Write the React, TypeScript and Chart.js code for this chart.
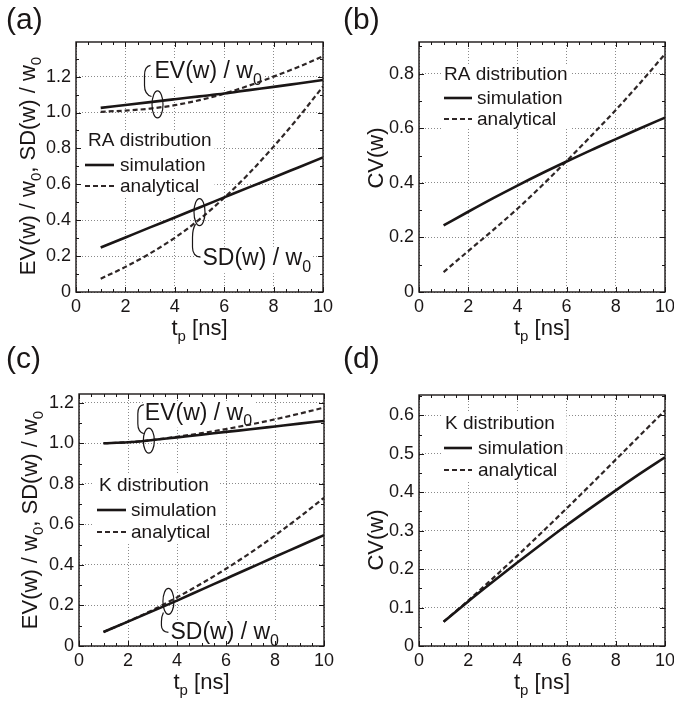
import React, { useEffect, useRef } from 'react';
import { Chart, registerables } from 'chart.js';

Chart.register(...registerables);

// ---------------- data ----------------
const tp = [1, 2, 3, 4, 5, 6, 7, 8, 9, 10];

// (a) RA distribution: EV(w)/w0 and SD(w)/w0
const raEvSim = [1.026, 1.042, 1.058, 1.074, 1.09, 1.106, 1.125, 1.143, 1.162, 1.181];
const raEvAna = [1.004, 1.011, 1.022, 1.041, 1.069, 1.105, 1.15, 1.2, 1.254, 1.313];
const raSdSim = [0.248, 0.304, 0.36, 0.415, 0.471, 0.527, 0.583, 0.638, 0.694, 0.75];
const raSdAna = [0.074, 0.14, 0.215, 0.302, 0.405, 0.525, 0.66, 0.81, 0.972, 1.145];

// (b) RA distribution: CV(w)
const raCvSim = [0.244, 0.294, 0.343, 0.39, 0.435, 0.478, 0.52, 0.56, 0.6, 0.639];
const raCvAna = [0.073, 0.15, 0.226, 0.305, 0.39, 0.48, 0.572, 0.667, 0.767, 0.872];

// (c) K distribution: EV(w)/w0 and SD(w)/w0
const kEvSim = [1.0, 1.005, 1.016, 1.029, 1.042, 1.056, 1.069, 1.083, 1.097, 1.11];
const kEvAna = [1.0, 1.005, 1.016, 1.032, 1.05, 1.07, 1.093, 1.118, 1.146, 1.176];
const kSdSim = [0.069, 0.12, 0.172, 0.224, 0.278, 0.332, 0.386, 0.44, 0.493, 0.547];
const kSdAna = [0.069, 0.121, 0.177, 0.24, 0.308, 0.381, 0.46, 0.545, 0.636, 0.731];

// (d) K distribution: CV(w)
const kCvSim = [0.063, 0.116, 0.167, 0.217, 0.266, 0.314, 0.36, 0.405, 0.449, 0.491];
const kCvAna = [0.063, 0.118, 0.176, 0.235, 0.296, 0.358, 0.421, 0.485, 0.549, 0.613];

// ticks
const xTicks = [0, 2, 4, 6, 8, 10];
const xTickLabels = ['0', '2', '4', '6', '8', '10'];
const evSdTicks = [0, 0.2, 0.4, 0.6, 0.8, 1.0, 1.2];
const evSdTickLabels = ['0', '0.2', '0.4', '0.6', '0.8', '1.0', '1.2'];
const raCvTicks = [0, 0.2, 0.4, 0.6, 0.8];
const raCvTickLabels = ['0', '0.2', '0.4', '0.6', '0.8'];
const kCvTicks = [0, 0.1, 0.2, 0.3, 0.4, 0.5, 0.6];
const kCvTickLabels = ['0', '0.1', '0.2', '0.3', '0.4', '0.5', '0.6'];

// ---------------- styles ----------------
const FONT = '"Liberation Sans", Arial, Helvetica, sans-serif';
const INK = '#1a1616';
const DASH_INK = '#2e2626';
const GRID = '#8a8a8a';
const W = 674;
const H = 702;
const YW = 40;
const XH = 30;

type Part = [string, boolean];
type Note = {
  x: number; y: number; rx: number; ry: number;
  curl: number[][]; text: Part[]; tdx: number; tdy: number;
};
type Panel = {
  id: string; label: string; labelPos: [number, number];
  plot: [number, number, number, number];
  yMax: number; yTicks: number[]; yLabels: string[]; yMinor: number;
  series: { data: number[]; dashed: boolean }[];
  yTitle: Part[]; yTitleX: number; yTitleY: number;
  legend: { title: string; tx: number; ty: number; lx0: number; lx1: number; textX: number; r1: number; r2: number };
  notes: Note[];
};

const evSdTitle: Part[] = [['EV(w) / w', false], ['0', true], [', SD(w) / w', false], ['0', true]];
const cvTitle: Part[] = [['CV(w)', false]];
const xTitle: Part[] = [['t', false], ['p', true], [' [ns]', false]];
const evNote: Part[] = [['EV(w) / w', false], ['0', true]];
const sdNote: Part[] = [['SD(w) / w', false], ['0', true]];

const upCurlA = [[-6, -8], [-13, -10, -13, -19], [-13, -29], [-13, -38, -7, -39]];
const downCurlA = [[-4, 12], [-7, 17, -7, 25], [-7, 35], [-7, 44, 1, 45]];
const upCurlC = [[-5, -7], [-11, -9, -11, -17], [-11, -27], [-11, -35, -5, -36]];
const downCurlC = [[-5, 11], [-7, 15, -7, 20], [-7, 24], [-7, 30, 0, 31]];

const panels: Panel[] = [
  {
    id: 'a', label: '(a)', labelPos: [6, 29], plot: [76, 42, 323, 292],
    yMax: 1.393, yTicks: evSdTicks, yLabels: evSdTickLabels, yMinor: 0.1,
    series: [
      { data: raEvSim, dashed: false }, { data: raEvAna, dashed: true },
      { data: raSdSim, dashed: false }, { data: raSdAna, dashed: true },
    ],
    yTitle: evSdTitle, yTitleX: 35, yTitleY: 166,
    legend: { title: 'RA distribution', tx: 12, ty: 104, lx0: 9, lx1: 38, textX: 44, r1: 123, r2: 144 },
    notes: [
      { x: 3.3, y: 1.045, rx: 5.5, ry: 13.5, curl: upCurlA, text: evNote, tdx: -3, tdy: -26 },
      { x: 5.0, y: 0.445, rx: 5.5, ry: 13.5, curl: downCurlA, text: sdNote, tdx: 3, tdy: 53 },
    ],
  },
  {
    id: 'b', label: '(b)', labelPos: [343, 29], plot: [419, 42, 665, 292],
    yMax: 0.916, yTicks: raCvTicks, yLabels: raCvTickLabels, yMinor: 0.1,
    series: [{ data: raCvSim, dashed: false }, { data: raCvAna, dashed: true }],
    yTitle: cvTitle, yTitleX: 383, yTitleY: 158,
    legend: { title: 'RA distribution', tx: 25, ty: 38, lx0: 25, lx1: 53, textX: 58, r1: 56, r2: 77 },
    notes: [],
  },
  {
    id: 'c', label: '(c)', labelPos: [6, 368], plot: [79, 394, 324, 646],
    yMax: 1.243, yTicks: evSdTicks, yLabels: evSdTickLabels, yMinor: 0.1,
    series: [
      { data: kEvSim, dashed: false }, { data: kEvAna, dashed: true },
      { data: kSdSim, dashed: false }, { data: kSdAna, dashed: true },
    ],
    yTitle: evSdTitle, yTitleX: 37, yTitleY: 520,
    legend: { title: 'K distribution', tx: 20, ty: 97, lx0: 18, lx1: 47, textX: 52, r1: 116, r2: 138 },
    notes: [
      { x: 2.85, y: 1.013, rx: 5.5, ry: 12.5, curl: upCurlC, text: evNote, tdx: -4, tdy: -21 },
      { x: 3.65, y: 0.22, rx: 5.5, ry: 13, curl: downCurlC, text: sdNote, tdx: 2, tdy: 38 },
    ],
  },
  {
    id: 'd', label: '(d)', labelPos: [343, 368], plot: [419, 395, 665, 646],
    yMax: 0.653, yTicks: kCvTicks, yLabels: kCvTickLabels, yMinor: 0.05,
    series: [{ data: kCvSim, dashed: false }, { data: kCvAna, dashed: true }],
    yTitle: cvTitle, yTitleX: 383, yTitleY: 540,
    legend: { title: 'K distribution', tx: 26, ty: 34, lx0: 25, lx1: 53, textX: 59, r1: 53, r2: 75 },
    notes: [],
  },
];

// ---------------- helpers ----------------
function richWidth(ctx: CanvasRenderingContext2D, parts: Part[], size: number) {
  let total = 0;
  for (const [t, sub] of parts) {
    ctx.font = `${sub ? Math.round(size * 0.7) : size}px ${FONT}`;
    total += ctx.measureText(t).width;
  }
  return total;
}

function drawRich(ctx: CanvasRenderingContext2D, parts: Part[], x: number, y: number, size: number, align: 'left' | 'center') {
  const total = richWidth(ctx, parts, size);
  let cx = align === 'center' ? x - total / 2 : x;
  ctx.textAlign = 'left';
  ctx.textBaseline = 'alphabetic';
  for (const [t, sub] of parts) {
    ctx.font = `${sub ? Math.round(size * 0.7) : size}px ${FONT}`;
    ctx.fillText(t, cx, sub ? y + size * 0.28 : y);
    cx += ctx.measureText(t).width;
  }
  return total;
}

function makePlugin(p: Panel) {
  const NOTE_SIZE = 23;
  const LEG_SIZE = 19;
  return {
    id: 'panelDecor' + p.id,
    beforeDatasetsDraw(chart: any) {
      const ctx: CanvasRenderingContext2D = chart.ctx;
      const { left, top } = chart.chartArea;
      const xs = chart.scales.x;
      const ys = chart.scales.y;
      ctx.save();
      // legend box
      const lg = p.legend;
      ctx.font = `${LEG_SIZE}px ${FONT}`;
      const tw = ctx.measureText(lg.title).width;
      const sw = Math.max(ctx.measureText('simulation').width, ctx.measureText('analytical').width);
      const bx0 = left + Math.min(lg.tx, lg.lx0) - 3;
      const bx1 = Math.max(left + lg.tx + tw, left + lg.textX + sw) + 3;
      const by0 = top + lg.ty - 16;
      const by1 = top + lg.r2 + 10;
      ctx.fillStyle = '#ffffff';
      ctx.fillRect(bx0, by0, bx1 - bx0, by1 - by0);
      ctx.fillStyle = INK;
      ctx.textAlign = 'left';
      ctx.textBaseline = 'alphabetic';
      ctx.fillText(lg.title, left + lg.tx, top + lg.ty);
      ctx.textBaseline = 'middle';
      ctx.fillText('simulation', left + lg.textX, top + lg.r1 + 1);
      ctx.fillText('analytical', left + lg.textX, top + lg.r2 + 1);
      ctx.lineCap = 'butt';
      ctx.strokeStyle = INK;
      ctx.lineWidth = 2.6;
      ctx.setLineDash([]);
      ctx.beginPath();
      ctx.moveTo(left + lg.lx0, top + lg.r1);
      ctx.lineTo(left + lg.lx1, top + lg.r1);
      ctx.stroke();
      ctx.strokeStyle = DASH_INK;
      ctx.lineWidth = 2.2;
      ctx.setLineDash([5, 3]);
      ctx.beginPath();
      ctx.moveTo(left + lg.lx0, top + lg.r2);
      ctx.lineTo(left + lg.lx1, top + lg.r2);
      ctx.stroke();
      ctx.setLineDash([]);
      // annotation texts with white background
      for (const n of p.notes) {
        const cx = xs.getPixelForValue(n.x);
        const cy = ys.getPixelForValue(n.y);
        const w = richWidth(ctx, n.text, NOTE_SIZE);
        const bx = cx + n.tdx;
        const by = cy + n.tdy;
        ctx.fillStyle = '#ffffff';
        ctx.fillRect(bx - 2, by - NOTE_SIZE * 0.8, w + 4, NOTE_SIZE * 1.15);
        ctx.fillStyle = INK;
        drawRich(ctx, n.text, bx, by, NOTE_SIZE, 'left');
      }
      ctx.restore();
    },
    afterDatasetsDraw(chart: any) {
      const ctx: CanvasRenderingContext2D = chart.ctx;
      const { left, top, right, bottom } = chart.chartArea;
      const xs = chart.scales.x;
      const ys = chart.scales.y;
      ctx.save();
      ctx.setLineDash([]);
      ctx.strokeStyle = INK;
      // inner ticks (major + minor) on all sides
      ctx.lineWidth = 1;
      ctx.beginPath();
      for (let i = 0; i <= 20; i++) {
        const v = i * 0.5;
        const len = i % 4 === 0 ? 5 : 3;
        const px = Math.round(xs.getPixelForValue(v)) + 0.5;
        ctx.moveTo(px, bottom); ctx.lineTo(px, bottom - len);
        ctx.moveTo(px, top); ctx.lineTo(px, top + len);
      }
      const nMinor = Math.floor(p.yMax / p.yMinor + 1e-6);
      for (let i = 0; i <= nMinor; i++) {
        const v = i * p.yMinor;
        const major = p.yTicks.some((t) => Math.abs(t - v) < 1e-6);
        const len = major ? 5 : 3;
        const py = Math.round(ys.getPixelForValue(v)) + 0.5;
        ctx.moveTo(left, py); ctx.lineTo(left + len, py);
        ctx.moveTo(right, py); ctx.lineTo(right - len, py);
      }
      ctx.stroke();
      // frame
      ctx.lineWidth = 1.4;
      ctx.strokeRect(left, top, right - left, bottom - top);
      // annotation ellipses + curls
      ctx.lineWidth = 1.2;
      for (const n of p.notes) {
        const cx = xs.getPixelForValue(n.x);
        const cy = ys.getPixelForValue(n.y);
        ctx.beginPath();
        ctx.ellipse(cx, cy, n.rx, n.ry, 0, 0, Math.PI * 2);
        ctx.stroke();
        const c = n.curl;
        ctx.beginPath();
        ctx.moveTo(cx + c[0][0], cy + c[0][1]);
        ctx.quadraticCurveTo(cx + c[1][0], cy + c[1][1], cx + c[1][2], cy + c[1][3]);
        ctx.lineTo(cx + c[2][0], cy + c[2][1]);
        ctx.quadraticCurveTo(cx + c[3][0], cy + c[3][1], cx + c[3][2], cy + c[3][3]);
        ctx.stroke();
      }
      ctx.restore();
    },
    afterDraw(chart: any) {
      const ctx: CanvasRenderingContext2D = chart.ctx;
      const { left, right, bottom } = chart.chartArea;
      ctx.save();
      ctx.fillStyle = INK;
      // panel label
      ctx.font = `30px ${FONT}`;
      ctx.textAlign = 'left';
      ctx.textBaseline = 'alphabetic';
      ctx.fillText(p.label, p.labelPos[0], p.labelPos[1]);
      // x title
      drawRich(ctx, xTitle, (left + right) / 2, bottom + 43, 22, 'center');
      // y title (rotated)
      ctx.translate(p.yTitleX, p.yTitleY);
      ctx.rotate(-Math.PI / 2);
      drawRich(ctx, p.yTitle, 0, 0, 22, 'center');
      ctx.restore();
    },
  };
}

function buildConfig(p: Panel): any {
  const [pl, pt, pr, pb] = p.plot;
  return {
    type: 'line',
    data: {
      datasets: p.series.map((s) => ({
        data: s.data.map((v, i) => ({ x: tp[i], y: v })),
        borderColor: s.dashed ? DASH_INK : INK,
        borderWidth: s.dashed ? 2.2 : 2.6,
        borderDash: s.dashed ? [5, 3] : [],
        pointRadius: 0,
        cubicInterpolationMode: 'monotone',
        fill: false,
      })),
    },
    options: {
      responsive: false,
      animation: false,
      devicePixelRatio: 1,
      events: [],
      layout: { padding: { left: pl - YW, top: pt, right: W - pr, bottom: H - pb - XH } },
      plugins: { legend: { display: false }, tooltip: { enabled: false }, title: { display: false } },
      scales: {
        x: {
          type: 'linear', min: 0, max: 10,
          afterBuildTicks: (s: any) => { s.ticks = xTicks.map((v) => ({ value: v })); },
          afterFit: (s: any) => { s.height = XH; s.paddingLeft = 0; s.paddingRight = 0; },
          ticks: {
            padding: 4, color: INK, maxRotation: 0, autoSkip: false,
            font: { family: FONT, size: 18 },
            callback: (_v: any, i: number) => xTickLabels[i],
          },
          grid: { color: GRID, lineWidth: 1, drawTicks: false },
          border: { display: false, dash: [1, 2] },
        },
        y: {
          type: 'linear', min: 0, max: p.yMax,
          afterBuildTicks: (s: any) => { s.ticks = p.yTicks.map((v) => ({ value: v })); },
          afterFit: (s: any) => { s.width = YW; s.paddingTop = 0; s.paddingBottom = 0; },
          ticks: {
            padding: 5, color: INK, autoSkip: false,
            font: { family: FONT, size: 18 },
            callback: (_v: any, i: number) => p.yLabels[i],
          },
          grid: { color: GRID, lineWidth: 1, drawTicks: false },
          border: { display: false, dash: [1, 2] },
        },
      },
    },
    plugins: [makePlugin(p)],
  };
}

function PanelChart({ p }: { p: Panel }) {
  const ref = useRef<HTMLCanvasElement>(null);
  useEffect(() => {
    const chart = new Chart(ref.current as HTMLCanvasElement, buildConfig(p));
    return () => chart.destroy();
  }, [p]);
  return (
    <canvas
      ref={ref}
      width={W}
      height={H}
      style={{ position: 'absolute', left: 0, top: 0, width: W, height: H }}
    />
  );
}

export default function App() {
  return (
    <div style={{ position: 'absolute', left: 0, top: 0, width: W, height: H, background: '#ffffff', overflow: 'hidden' }}>
      {panels.map((p) => (
        <PanelChart key={p.id} p={p} />
      ))}
    </div>
  );
}
